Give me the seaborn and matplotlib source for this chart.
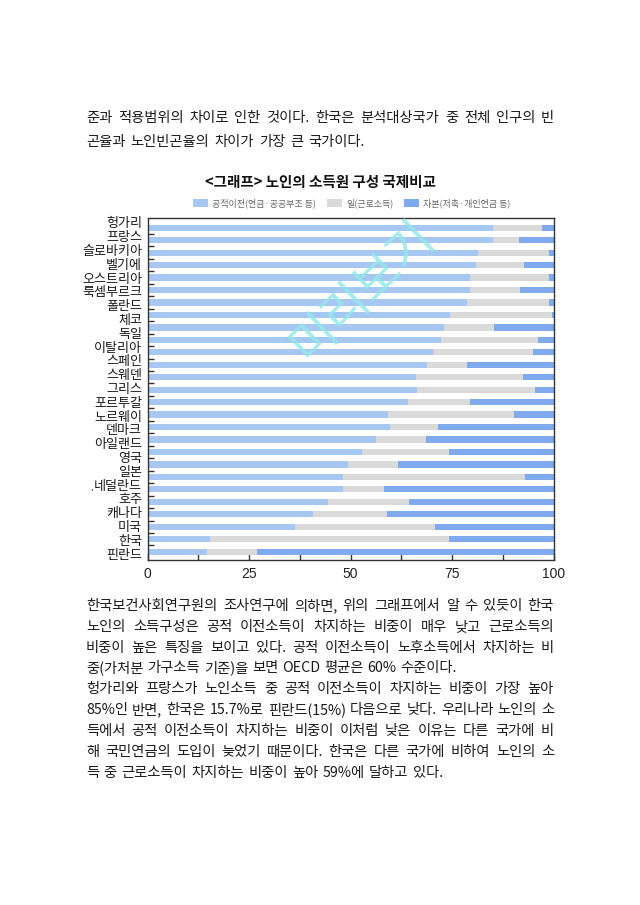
import numpy as np
import pandas as pd
import matplotlib
matplotlib.use("Agg")
import matplotlib.pyplot as plt
from matplotlib.patches import Patch
from matplotlib.transforms import blended_transform_factory
import seaborn as sns

# ---------------- data ----------------
countries = ["헝가리", "프랑스", "슬로바키아", "벨기에", "오스트리아", "룩셈부르크",
             "폴란드", "체코", "독일", "이탈리아", "스페인", "스웨덴", "그리스",
             "포르투갈", "노르웨이", "덴마크", "아일랜드", "영국", "일본", "네덜란드",
             "호주", "캐나다", "미국", "한국", "핀란드"]

# bar rows as drawn in the (scanned) chart, top to bottom
public = [85.2, 85.0, 81.5, 80.9, 79.4, 79.4, 78.6, 74.5, 73.0, 72.2, 70.4, 68.8, 66.1,
          66.3, 64.1, 59.3, 59.7, 56.4, 52.9, 49.5, 48.2, 48.2, 44.5, 40.8, 36.3, 15.4, 14.6]
work = [11.9, 6.6, 17.5, 11.8, 19.6, 12.3, 20.3, 25.1, 12.3, 24.1, 24.6, 10.0, 26.5,
        29.1, 15.3, 31.0, 11.9, 12.1, 21.4, 12.3, 44.8, 10.1, 20.0, 18.3, 34.5, 58.9, 12.3]
capital = [2.9, 8.4, 1.0, 7.3, 1.0, 8.3, 1.1, 0.4, 14.7, 3.7, 5.0, 21.2, 7.4,
           4.6, 20.6, 9.7, 28.4, 31.5, 25.7, 38.2, 7.0, 41.7, 35.5, 40.9, 29.2, 25.7, 73.1]

series_names = ["공적이전(연금·공공부조 등)", "일(근로소득)", "자본(저축·개인연금 등)"]
x_ticks = [0, 25, 50, 75, 100]

title = "<그래프> 노인의 소득원 구성 국제비교"

top_lines = [
    ("준과 적용범위의 차이로 인한 것이다. 한국은 분석대상국가 중 전체 인구의 빈", 118, 554),
    ("곤율과 노인빈곤율의 차이가 가장 큰 국가이다.", 142, 365),
]
bottom_lines = [
    ("한국보건사회연구원의 조사연구에 의하면, 위의 그래프에서 알 수 있듯이 한국", 606, 554),
    ("노인의 소득구성은 공적 이전소득이 차지하는 비중이 매우 낮고 근로소득의", 627, 554),
    ("비중이 높은 특징을 보이고 있다. 공적 이전소득이 노후소득에서 차지하는 비", 648, 554),
    ("중(가처분 가구소득 기준)을 보면 OECD 평균은 60% 수준이다.", 668, 457),
    ("헝가리와 프랑스가 노인소득 중 공적 이전소득이 차지하는 비중이 가장 높아", 689, 554),
    ("85%인 반면, 한국은 15.7%로 핀란드(15%) 다음으로 낮다. 우리나라 노인의 소", 710, 554),
    ("득에서 공적 이전소득이 차지하는 비중이 이처럼 낮은 이유는 다른 국가에 비", 731, 554),
    ("해 국민연금의 도입이 늦었기 때문이다. 한국은 다른 국가에 비하여 노인의 소", 752, 554),
    ("득 중 근로소득이 차지하는 비중이 높아 59%에 달하고 있다.", 773, 443),
]

# ---------------- style ----------------
sns.set_theme(style="white")
plt.rcParams["font.family"] = ["Noto Sans CJK KR", "DejaVu Sans"]
plt.rcParams["axes.unicode_minus"] = False

c_public = "#A5C7F1"
c_work = "#DADADA"
c_capital = "#7FAAEE"

W, H = 640, 905
fig = plt.figure(figsize=(W / 100, H / 100), dpi=100)
fig.patch.set_facecolor("white")

ax = fig.add_axes([147.5 / W, 1 - 560 / H, 406 / W, 342 / H])

n_rows = len(public)
df = pd.DataFrame({
    "row": np.arange(n_rows),
    "public": public,
    "work": work,
    "capital": capital,
})
df["c2"] = df["public"] + df["work"]
df["c3"] = df["c2"] + df["capital"]

for col, colr in [("c3", c_capital), ("c2", c_work), ("public", c_public)]:
    sns.barplot(data=df, x=col, y="row", orient="h", color=colr, width=0.5,
                ax=ax, saturation=1, edgecolor="none", linewidth=0)

ax.set_xlim(0, 100)
ax.set_ylim(n_rows - 1 + 0.67, -0.78)
ax.set_xlabel("")
ax.set_ylabel("")

# ticks
ax.set_xticks(x_ticks)
ax.set_xticklabels([str(v) for v in x_ticks], fontsize=10, color="#222222",
                   family=["Liberation Sans", "DejaVu Sans"])
ax.set_xticks([12.5, 37.5, 62.5, 87.5], minor=True)
ax.set_yticks(np.arange(n_rows - 1) + 0.5)
ax.set_yticklabels([])
ax.tick_params(axis="x", which="both", direction="in", length=4, width=1,
               color="#333333", bottom=True, pad=5)
ax.tick_params(axis="y", which="both", direction="in", length=4, width=1,
               color="#333333", left=True, right=False)
for s in ax.spines.values():
    s.set_visible(True)
    s.set_color("#333333")
    s.set_linewidth(1.0)

# country labels (evenly spaced down the axis as in the reference)
label_pos = np.linspace(-0.3, n_rows - 1 + 0.27, len(countries))
trans = blended_transform_factory(fig.transFigure, ax.transData)
for name, yp in zip(countries, label_pos):
    ax.text(142 / W, yp, name, transform=trans, ha="right", va="center",
            fontsize=9.4, color="#1a1a1a")

# stray dot in reference
fig.text(92 / W, 1 - 488 / H, ".", fontsize=7, color="#444444", ha="center", va="center")

# title
fig.text(320 / W, 1 - 182 / H, title, ha="center", va="center", fontsize=10.5,
         fontweight="bold", color="#111111")

# legend
handles = [Patch(facecolor=c_public, edgecolor="none"),
           Patch(facecolor=c_work, edgecolor="none"),
           Patch(facecolor=c_capital, edgecolor="none")]
leg = fig.legend(handles, series_names, loc="center", ncol=3, frameon=False,
                 bbox_to_anchor=(352 / W, 1 - 203 / H), fontsize=6.5,
                 handlelength=1.6, handleheight=0.9, handletextpad=0.5,
                 columnspacing=1.2, borderaxespad=0, borderpad=0)
for t in leg.get_texts():
    t.set_color("#666666")

# watermark
fig.text(362 / W, 1 - 291 / H, "미리보기", rotation=44, ha="center", va="center",
         fontsize=35, color="#96E8EA", alpha=0.85, zorder=10)

# body text, justified word by word
renderer = fig.canvas.get_renderer()


def place_line(text, y, x0, x1, size=10.3):
    words = text.split(" ")
    ts = [fig.text(0, 1 - y / H, w, fontsize=size, color="#1a1a1a",
                   ha="left", va="center") for w in words]
    widths = [t.get_window_extent(renderer).width for t in ts]
    if len(ts) > 1:
        gap = (x1 - x0 - sum(widths)) / (len(ts) - 1)
    else:
        gap = 0
    x = x0
    for t, w in zip(ts, widths):
        t.set_x(x / W)
        x += w + gap


for txt, y, xe in top_lines + bottom_lines:
    place_line(txt, y, 86, xe)

fig.savefig("out.png", dpi=100, facecolor="white")
